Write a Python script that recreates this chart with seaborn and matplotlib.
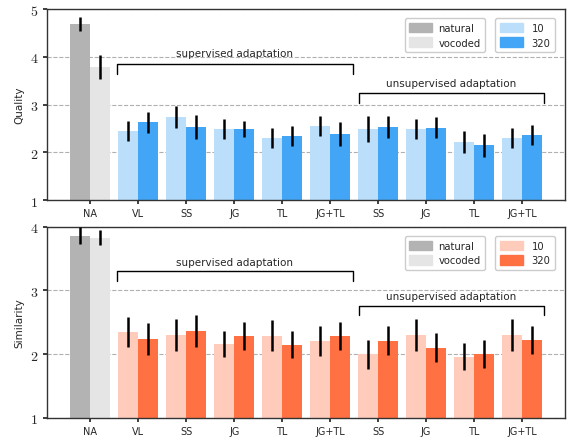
import numpy as np
import pandas as pd
import matplotlib
matplotlib.use('Agg')
import matplotlib.pyplot as plt
import seaborn as sns
from matplotlib.patches import Patch
from matplotlib.ticker import FuncFormatter

sns.set_theme(style='white')
plt.rcParams['font.family'] = ['DejaVu Sans']
plt.rcParams['mathtext.fontset'] = 'cm'

# x groups (unique keys) and their shown labels
keys = ['NA', 'sVL', 'sSS', 'sJG', 'sTL', 'sJGTL', 'uSS', 'uJG', 'uTL', 'uJGTL']
tick_labels = ['NA', 'VL', 'SS', 'JG', 'TL', 'JG+TL', 'SS', 'JG', 'TL', 'JG+TL']

# first bar of each pair (natural / 10) and second bar (vocoded / 320)
quality_a = [4.69, 2.45, 2.74, 2.49, 2.30, 2.55, 2.49, 2.49, 2.21, 2.30]
quality_a_err = [0.15, 0.21, 0.23, 0.21, 0.21, 0.21, 0.27, 0.21, 0.23, 0.20]
quality_b = [3.79, 2.63, 2.53, 2.49, 2.34, 2.38, 2.53, 2.51, 2.15, 2.36]
quality_b_err = [0.25, 0.22, 0.25, 0.17, 0.21, 0.25, 0.24, 0.22, 0.24, 0.21]

similarity_a = [3.86, 2.35, 2.30, 2.16, 2.29, 2.21, 2.00, 2.30, 1.96, 2.30]
similarity_a_err = [0.13, 0.23, 0.25, 0.21, 0.24, 0.24, 0.23, 0.25, 0.21, 0.25]
similarity_b = [3.83, 2.24, 2.37, 2.29, 2.15, 2.29, 2.21, 2.10, 2.00, 2.23]
similarity_b_err = [0.12, 0.25, 0.25, 0.22, 0.21, 0.22, 0.23, 0.23, 0.22, 0.22]

gray_colors = ['#b3b3b3', '#e5e5e5']
blue_colors = ['#bbdefb', '#42a5f5']
orange_colors = ['#ffccbc', '#ff7043']


def draw_panel(ax, vals_a, err_a, vals_b, err_b, colors, ylabel, ylim, brackets):
    df = pd.DataFrame({
        'key': keys * 2,
        'slot': ['a'] * len(keys) + ['b'] * len(keys),
        'value': vals_a + vals_b,
        'err': err_a + err_b,
    })
    sns.barplot(data=df, x='key', y='value', hue='slot', order=keys,
                hue_order=['a', 'b'], width=0.84, errorbar=None,
                legend=False, ax=ax, saturation=1, zorder=2)

    errs = [err_a, err_b]
    bar_groups = list(ax.containers)
    for j, cont in enumerate(bar_groups):
        xs = []
        ys = []
        for i, bar in enumerate(cont.patches):
            bar.set_facecolor(gray_colors[j] if i == 0 else colors[j])
            bar.set_edgecolor('none')
            xs.append(bar.get_x() + bar.get_width() / 2)
            ys.append(bar.get_height())
        ax.errorbar(xs, ys, yerr=errs[j], fmt='none', ecolor='black',
                    elinewidth=1.8, capsize=0, zorder=3)

    ax.set_ylim(*ylim)
    ax.set_xlim(-0.9, 9.9)
    ax.set_yticks(np.arange(ylim[0], ylim[1] + 1))
    ax.yaxis.set_major_formatter(FuncFormatter(lambda v, p: r'$%d$' % v))
    ax.set_xticks(range(len(keys)))
    ax.set_xticklabels(tick_labels, fontsize=7)
    ax.tick_params(axis='y', labelsize=10, length=3, direction='out', left=True)
    ax.tick_params(axis='x', length=3, direction='out', bottom=True, pad=3)
    ax.set_xlabel('')
    ax.set_ylabel(ylabel, fontsize=7.5)
    ax.yaxis.grid(True, linestyle='--', color='#b0b0b0', linewidth=0.8, zorder=0)
    ax.set_axisbelow(True)
    for sp in ax.spines.values():
        sp.set_color('#333333')
        sp.set_linewidth(1.0)

    for (x0, x1, yline, ytick, text, ytext) in brackets:
        ax.plot([x0, x0, x1, x1], [ytick, yline, yline, ytick],
                color='black', linewidth=1.0, zorder=4)
        ax.text((x0 + x1) / 2, ytext, text, ha='center', va='center',
                fontsize=7.5, zorder=4)

    leg1 = ax.legend(handles=[Patch(color=gray_colors[0], label='natural'),
                              Patch(color=gray_colors[1], label='vocoded')],
                     loc='upper right', bbox_to_anchor=(0.855, 0.978),
                     fontsize=7.2, handlelength=2.3, handleheight=1.1,
                     borderpad=0.45, labelspacing=0.45, handletextpad=0.6,
                     framealpha=1)
    ax.add_artist(leg1)
    ax.legend(handles=[Patch(color=colors[0], label='10'),
                       Patch(color=colors[1], label='320')],
              loc='upper right', bbox_to_anchor=(0.99, 0.978),
              fontsize=7.2, handlelength=2.3, handleheight=1.1,
              borderpad=0.45, labelspacing=0.45, handletextpad=0.9,
              framealpha=1)


fig = plt.figure(figsize=(5.68, 4.39), dpi=100)
ax1 = fig.add_axes([0.083, 0.542, 0.912, 0.435])
ax2 = fig.add_axes([0.083, 0.046, 0.912, 0.435])

draw_panel(ax1, quality_a, quality_a_err, quality_b, quality_b_err,
           blue_colors, 'Quality', (1, 5),
           [(0.55, 5.48, 3.86, 3.65, 'supervised adaptation', 4.08),
            (5.6, 9.45, 3.24, 3.04, 'unsupervised adaptation', 3.45)])
draw_panel(ax2, similarity_a, similarity_a_err, similarity_b, similarity_b_err,
           orange_colors, 'Similarity', (1, 4),
           [(0.55, 5.48, 3.30, 3.15, 'supervised adaptation', 3.45),
            (5.6, 9.45, 2.76, 2.61, 'unsupervised adaptation', 2.92)])

fig.savefig('out.png', dpi=100)
